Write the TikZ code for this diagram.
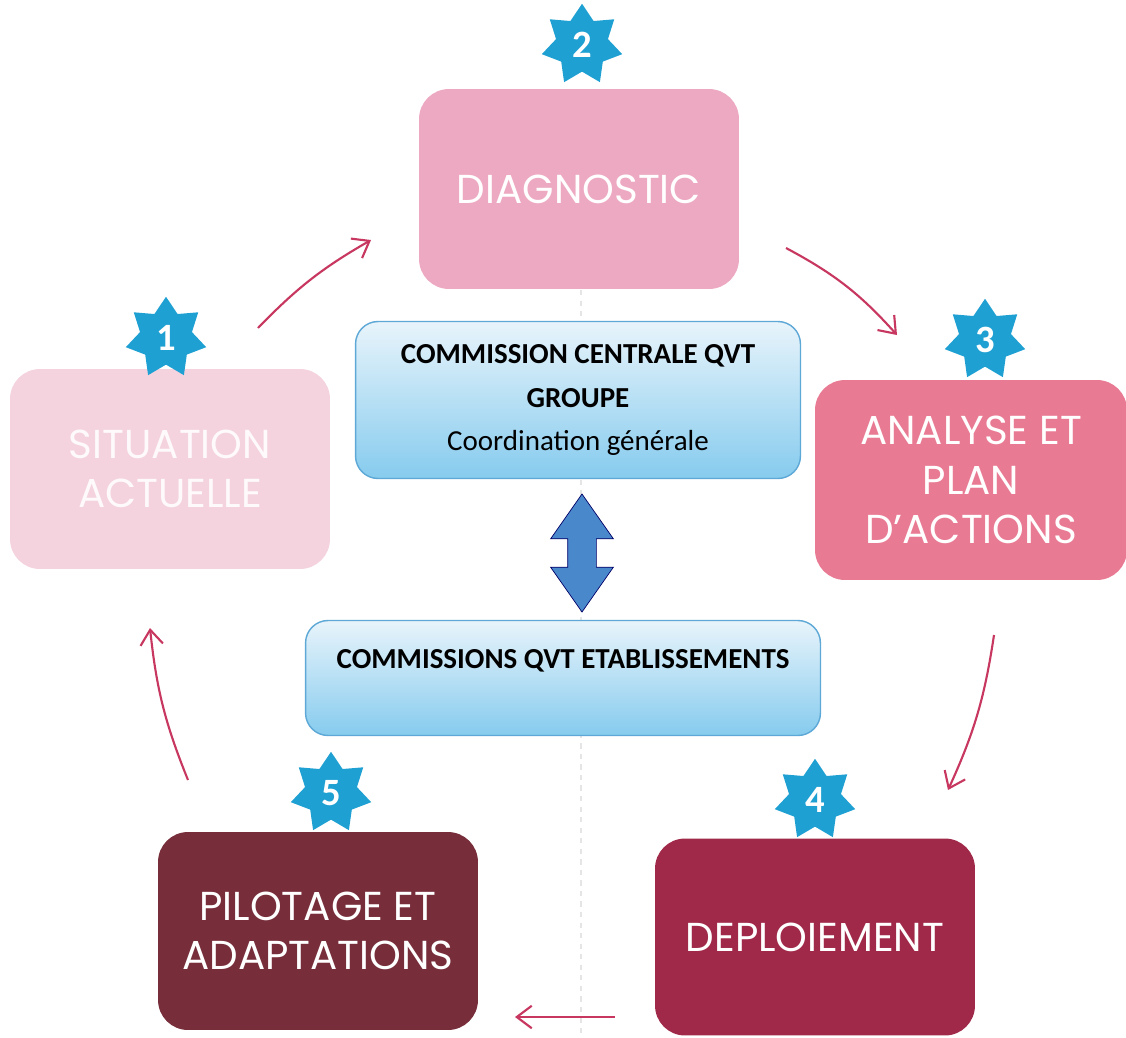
\documentclass[tikz,border=0pt]{standalone}
\usepackage{fontspec}
\setmainfont{Poppins}
\newfontfamily\bodyfont{Carlito}
\usetikzlibrary{shapes.geometric, shapes.arrows, arrows.meta, positioning}
\usepackage{xcolor}

\definecolor{pinkA}{HTML}{F4D2DE}
\definecolor{pinkB}{HTML}{EDA9C1}
\definecolor{pinkC}{HTML}{E97A93}
\definecolor{wineA}{HTML}{A02848}
\definecolor{wineB}{HTML}{772D3A}
\definecolor{starblue}{HTML}{1FA0D2}
\definecolor{cyclered}{HTML}{C73760}
\definecolor{frameblue}{HTML}{5DA8D6}
\definecolor{paleblue}{HTML}{E8F4FB}
\definecolor{skyblue}{HTML}{86CBEE}
\definecolor{linkblue}{HTML}{4A88CC}

\begin{document}
\begin{tikzpicture}[
    x=0.02cm, y=-0.02cm,
    step box/.style={rectangle, rounded corners=0.6cm, text=white, align=center,
        font=\fontsize{23}{28}\selectfont, minimum width=6.4cm, minimum height=4cm},
    badge/.style={star, star points=7, star point ratio=1.55, fill=starblue,
        minimum size=1.65cm, inner sep=0pt, text=white, font=\bodyfont\bfseries\fontsize{22}{22}\selectfont},
    commission/.style={rectangle, rounded corners=0.45cm, draw=frameblue, thick,
        top color=paleblue, bottom color=skyblue, align=center,
        font=\bodyfont\fontsize{16.5}{25}\selectfont},
    cycle/.style={-{Straight Barb[length=3mm, width=4.5mm]}, line width=1.2pt, cyclered}
]
\useasboundingbox[fill=white] (0,0) rectangle (1126,1038);

% fold line
\draw[gray!20, dashed, thick] (581,290) -- (581,1038);

% steps of the cycle
\node[step box, fill=pinkA, text=white!90!pinkA] (situation) at (170,469) {SITUATION\\ACTUELLE};
\node[step box, fill=pinkB] (diagnostic) at (579,189) {DIAGNOSTIC};
\node[step box, fill=pinkC, minimum width=6.24cm] (analyse) at (971,480) {ANALYSE ET\\PLAN\\D’ACTIONS};
\node[step box, fill=wineA, minimum height=3.94cm] (deploiement) at (815,937) {DEPLOIEMENT};
\node[step box, fill=wineB, minimum height=3.96cm] (pilotage) at (318,931) {PILOTAGE ET\\ADAPTATIONS};

% numbers
\node[badge] (n1) at (166,338) {1};
\node[badge] (n2) at (582,45) {2};
\node[badge] (n3) at (985,340) {3};
\node[badge] (n4) at (815,800) {4};
\node[badge] (n5) at (331,793) {5};

% commissions
\node[commission, minimum width=8.9cm, minimum height=3.14cm] (centrale) at (578,400)
    {\textbf{COMMISSION CENTRALE QVT}\\\textbf{GROUPE}\\Coordination générale};
\node[commission, minimum width=10.3cm, minimum height=2.3cm, text depth=0.75cm] (etab) at (563,678)
    {\textbf{COMMISSIONS QVT ETABLISSEMENTS}};
\node[double arrow, rotate=90, draw=blue!40!black, fill=linkblue,
    minimum height=2.36cm, inner sep=0.28cm, double arrow head extend=0.34cm,
    double arrow tip angle=70] (link) at (582,553) {};

% arrows of the cycle
\coordinate (a1) at (258,328);
\coordinate (b1) at (371,240);
\coordinate (a2) at (786,248);
\coordinate (b2) at (897,335);
\coordinate (a3) at (994,635);
\coordinate (b3) at (948,790);
\coordinate (a4) at (615,1017);
\coordinate (b4) at (515,1017);
\coordinate (a5) at (188,780);
\coordinate (b5) at (150,628);
\draw[cycle] (a1) to[bend left=8] (b1);
\draw[cycle] (a2) to[bend left=10] (b2);
\draw[cycle] (a3) to[bend left=8] (b3);
\draw[cycle] (a4) -- (b4);
\draw[cycle] (a5) to[bend left=8] (b5);
\end{tikzpicture}
\end{document}
